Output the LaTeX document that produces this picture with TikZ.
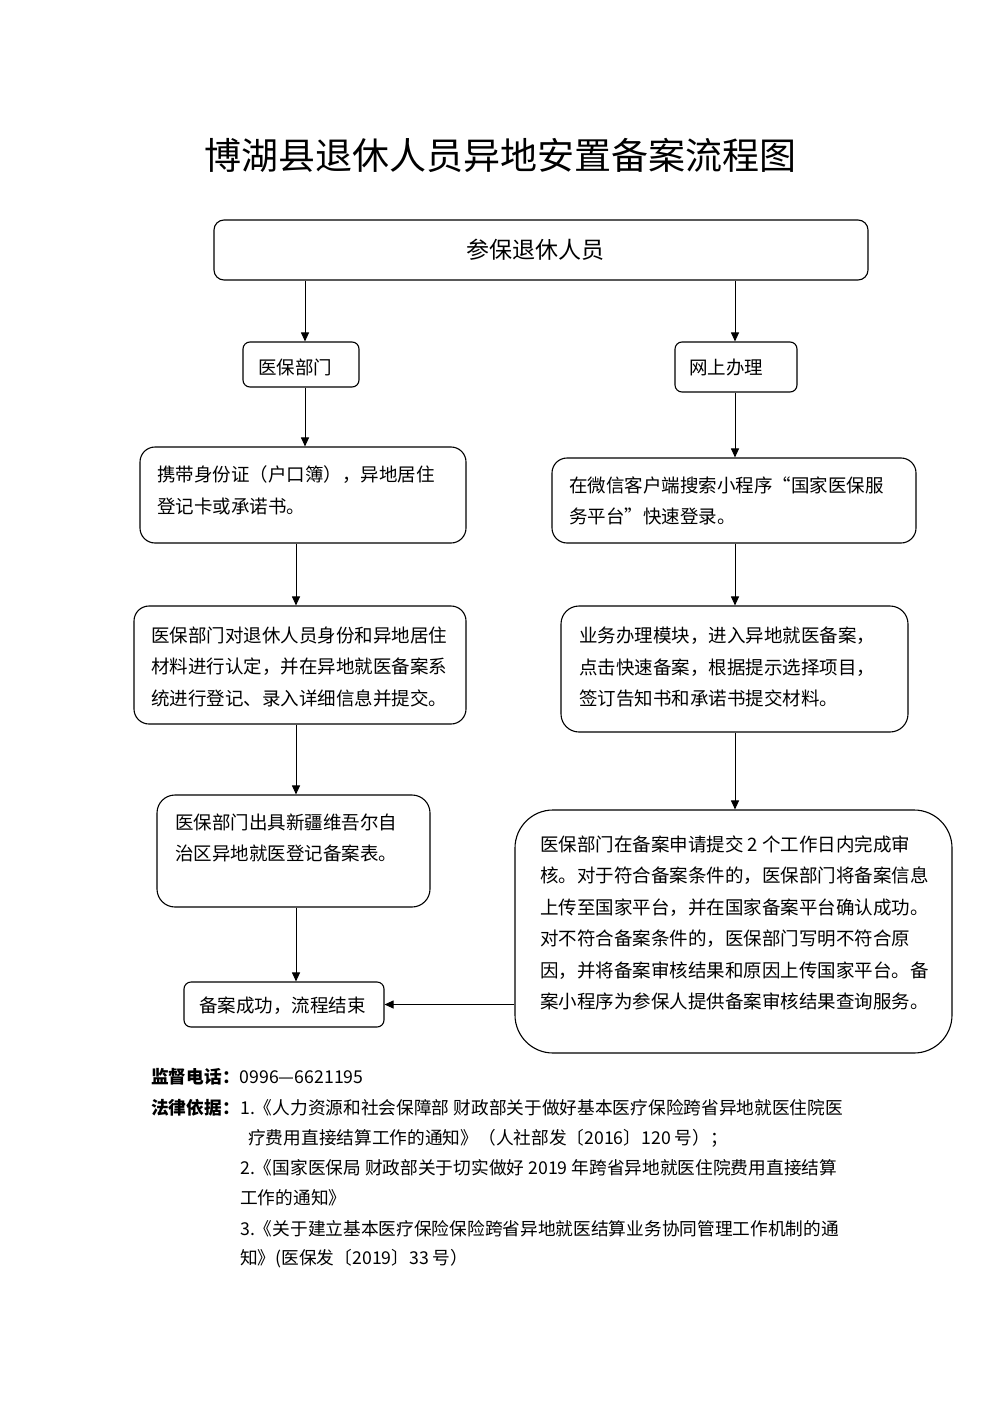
\documentclass[tikz,border=0pt]{standalone}
\usepackage{fontspec}
\setmainfont{Noto Sans CJK SC}
\usetikzlibrary{arrows.meta,calc}
\begin{document}
\begin{tikzpicture}[x=1pt,y=-1pt,
 box/.style={draw, line width=1.1pt, rounded corners=#1, inner sep=0pt},
 box/.default=9pt,
 txt/.style={anchor=west, align=left, inner sep=0pt, font=\fontsize{18.5}{31.5}\selectfont},
 ltxt/.style={anchor=west, inner sep=0pt, font=\fontsize{18.5}{22}\selectfont},
 btxt/.style={anchor=west, inner sep=0pt, font=\fontsize{17.7}{21}\selectfont},
 arr/.style={draw, line width=1pt, -{Triangle[length=9pt,width=8pt]}}]
\useasboundingbox (0,0) rectangle (1000,1415);

\node[inner sep=0pt, font=\fontsize{37}{40}\selectfont] (title) at (500,155) {博湖县退休人员异地安置备案流程图};

% boxes
\node[box=10pt, minimum width=654pt, minimum height=60pt] (top) at (541,250) {};
\node[box=7pt, minimum width=116pt, minimum height=45pt] (yb) at (301,364.5) {};
\node[box=7pt, minimum width=122pt, minimum height=50pt] (ws) at (736,367) {};
\node[box=15pt, minimum width=326pt, minimum height=96pt] (l1) at (303,495) {};
\node[box=15pt, minimum width=364pt, minimum height=85pt] (r1) at (734,500.5) {};
\node[box=15pt, minimum width=332pt, minimum height=118pt] (l2) at (300,665) {};
\node[box=18pt, minimum width=347pt, minimum height=126pt] (r2) at (734.5,669) {};
\node[box=18pt, minimum width=273pt, minimum height=112pt] (l3) at (293.5,851) {};
\node[box=38pt, minimum width=437pt, minimum height=243pt] (r3) at (733.5,931.5) {};
\node[box=7pt, minimum width=200pt, minimum height=45pt] (end) at (284,1004.5) {};

% box texts
\node[inner sep=0pt, font=\fontsize{23}{26}\selectfont] (topt) at (535,250) {参保退休人员};
\node[ltxt] (ybt) at (258,367) {医保部门};
\node[ltxt] (wst) at (689,368) {网上办理};
\node[ltxt] (endt) at (199,1005.5) {备案成功，流程结束};
\node[txt] (l1t) at (157,490.5) {携带身份证（户口簿），异地居住\\登记卡或承诺书。};
\node[txt] (r1t) at (569,501) {在微信客户端搜索小程序“国家医保服\\务平台”快速登录。};
\node[txt] (l2t) at (151,666.5) {医保部门对退休人员身份和异地居住\\材料进行认定，并在异地就医备案系\\统进行登记、录入详细信息并提交。};
\node[txt] (r2t) at (579,667) {业务办理模块，进入异地就医备案，\\点击快速备案，根据提示选择项目，\\签订告知书和承诺书提交材料。};
\node[txt] (l3t) at (175,838) {医保部门出具新疆维吾尔自\\治区异地就医登记备案表。};
\node[txt] (r3t) at (540,923) {医保部门在备案申请提交 2 个工作日内完成审\\核。对于符合备案条件的，医保部门将备案信息\\上传至国家平台，并在国家备案平台确认成功。\\对不符合备案条件的，医保部门写明不符合原\\因，并将备案审核结果和原因上传国家平台。备\\案小程序为参保人提供备案审核结果查询服务。};

% connectors
\coordinate (lxa) at (305,0);
\coordinate (lx) at (296,0);
\coordinate (rx) at (735,0);
\draw[arr] (top.south -| lxa) -- (yb.north -| lxa);
\draw[arr] (top.south -| rx) -- (ws.north -| rx);
\draw[arr] (yb.south -| lxa) -- (l1.north -| lxa);
\draw[arr] (ws.south -| rx) -- (r1.north -| rx);
\draw[arr] (l1.south -| lx) -- (l2.north -| lx);
\draw[arr] (r1.south -| rx) -- (r2.north -| rx);
\draw[arr] (l2.south -| lx) -- (l3.north -| lx);
\draw[arr] (r2.south -| rx) -- (r3.north -| rx);
\draw[arr] (l3.south -| lx) -- (end.north -| lx);
\draw[arr] (end.east -| r3.west) -- (end.east);

% bottom text
\node[btxt] (jd) at (151,1077) {\textbf{监督电话：}0996—6621195};
\node[btxt] (fl) at (151,1108) {\textbf{法律依据：}};
\node[btxt] (f1) at (240,1108) {1.《人力资源和社会保障部 财政部关于做好基本医疗保险跨省异地就医住院医};
\node[btxt] (f1b) at (248,1138) {疗费用直接结算工作的通知》（人社部发〔2016〕120 号）；};
\node[btxt] (f2) at (240,1168) {2.《国家医保局 财政部关于切实做好 2019 年跨省异地就医住院费用直接结算};
\node[btxt] (f2b) at (240,1198) {工作的通知》};
\node[btxt] (f3) at (240,1229) {3.《关于建立基本医疗保险保险跨省异地就医结算业务协同管理工作机制的通};
\node[btxt] (f3b) at (240,1259) {知》(医保发〔2019〕33 号）};
\end{tikzpicture}
\end{document}
